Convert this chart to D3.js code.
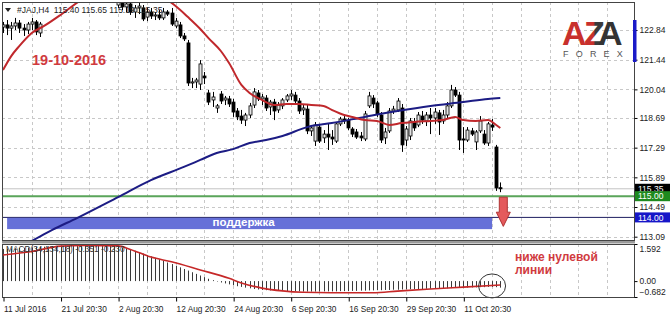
<!DOCTYPE html>
<html lang="ru">
<head>
<meta charset="UTF-8">
<title>H4 chart with MACD</title>
<script src="https://d3js.org/d3.v7.min.js"></script>
<style>
  body { margin: 0; background: #fff; }
  svg text { font-family: "Liberation Sans", Arial, sans-serif; }
</style>
</head>
<body>
<svg id="chart" width="670" height="316"></svg>
<script>
// ---- data ----
const symbolName = "#JAJ,H4";
const xLabels = ["11 Jul 2016", "21 Jul 20:30", "2 Aug 20:30", "12 Aug 20:30", "24 Aug 20:30",
  "6 Sep 20:30", "16 Sep 20:30", "29 Sep 20:30", "11 Oct 20:30"];
const xLabelBars = [0, 14, 28, 42, 56, 70, 84, 98, 112];
const priceTicks = [122.84, 121.44, 120.04, 118.69, 117.29, 115.89, 114.49, 113.09];
const macdTicks = [1.592, 0, -0.682];

// bars 10-27 are above the visible price range, so they are left empty
const N = null;
const open = [122.98,123.08,122.93,123.03,123.17,122.93,122.84,123.12,123.22,122.70,
  N,N,N,N,N,N,N,N,N,N,N,N,N,N,N,N,N,N,
  124.02,124.11,123.93,124.07,123.69,123.88,123.88,123.45,123.69,123.50,123.55,123.41,123.69,
  123.64,123.03,123.08,122.56,122.23,120.34,120.39,120.29,120.67,
  119.87,119.54,119.16,119.82,119.54,119.59,119.44,119.02,118.78,118.59,
  118.83,119.30,119.87,119.59,119.63,119.21,119.44,119.07,119.26,119.54,
  119.73,119.77,119.49,119.07,119.11,118.08,117.60,118.26,117.75,117.93,
  117.79,117.60,118.41,118.64,118.59,118.17,118.03,117.84,117.70,119.26,
  119.63,119.40,118.83,117.75,118.08,119.02,119.07,119.16,117.65,117.84,
  118.50,118.36,118.78,118.55,118.83,118.69,118.93,118.55,118.83,119.26,
  120.01,119.77,117.70,117.65,118.08,117.56,118.08,117.93,117.51,118.36,117.32,115.40];
const high = [123.22,123.31,123.22,123.41,123.31,123.12,123.22,123.41,123.31,123.22,
  N,N,N,N,N,N,N,N,N,N,N,N,N,N,N,N,N,N,
  124.49,124.40,124.26,124.35,124.02,124.16,124.02,123.88,123.88,123.69,123.78,123.88,123.78,
  123.88,123.41,123.22,122.70,122.37,120.58,120.58,121.42,120.86,
  120.01,119.92,119.35,119.96,119.73,119.73,119.59,119.16,119.07,118.93,
  119.40,120.10,120.01,119.82,119.77,119.54,119.59,119.44,119.63,119.82,
  120.01,119.92,119.63,119.35,119.35,118.36,118.50,118.41,118.12,118.41,
  118.12,118.50,118.74,118.78,118.69,118.26,118.17,118.03,119.02,119.92,
  119.77,119.49,118.97,118.22,119.16,119.26,119.63,119.35,118.31,118.69,
  118.69,118.97,119.02,118.97,119.16,119.16,119.07,119.07,119.44,120.25,
  120.15,119.92,118.26,118.26,118.22,118.12,118.78,118.12,118.50,118.64,117.42,115.65];
const low = [122.70,122.60,122.37,122.84,122.70,122.56,122.65,122.84,122.60,122.51,
  N,N,N,N,N,N,N,N,N,N,N,N,N,N,N,N,N,N,
  123.88,123.78,123.69,123.55,123.41,123.59,123.26,123.26,123.36,123.31,123.31,123.31,123.50,
  123.03,122.93,122.46,122.32,120.20,120.10,120.10,120.01,120.29,
  119.30,119.21,118.93,119.35,119.30,119.21,118.74,118.59,118.41,118.31,
  118.69,119.16,119.49,119.30,119.02,118.83,118.59,118.93,119.11,119.44,
  119.54,119.35,118.88,118.83,117.93,117.84,117.37,117.51,117.51,117.18,
  117.42,117.51,118.31,118.41,118.12,117.79,117.70,117.60,117.60,119.16,
  119.16,118.74,117.51,117.46,117.98,118.88,118.97,117.09,117.37,117.65,
  118.08,118.26,118.41,118.31,117.93,118.41,117.89,118.41,118.69,119.16,
  119.68,117.18,117.04,117.56,117.84,117.18,117.98,117.42,117.37,118.08,115.25,115.19];
const close = [123.08,122.93,123.03,123.17,122.93,122.84,123.12,123.22,122.75,123.12,
  N,N,N,N,N,N,N,N,N,N,N,N,N,N,N,N,N,N,
  124.16,123.93,124.07,123.69,123.88,123.97,123.36,123.69,123.50,123.55,123.41,123.69,123.59,
  123.12,123.26,122.56,122.42,120.34,120.39,120.48,121.24,120.58,
  119.44,119.68,119.26,119.49,119.63,119.35,118.97,118.74,118.59,118.83,
  119.26,119.92,119.59,119.68,119.16,119.44,119.02,119.30,119.54,119.73,
  119.82,119.49,119.02,119.16,118.08,118.22,118.36,117.60,117.93,117.79,
  117.70,118.41,118.64,118.55,118.22,117.93,117.79,117.75,118.88,119.73,
  119.35,118.88,117.65,118.03,119.02,119.11,119.49,117.42,118.17,118.55,
  118.22,118.83,118.59,118.83,118.69,118.97,118.50,118.83,119.26,120.01,
  119.77,117.65,117.65,118.12,117.93,118.03,118.55,117.51,118.41,118.26,115.39,115.35];

// red (short) moving average, sampled at bar indices
const fastMaBars = [0, 2, 4, 7, 10, 14, 19, 24, 30, 37, 40, 42, 45, 48, 50, 53, 55, 58, 60, 63, 66, 69,
  72, 75, 78, 80, 83, 85, 88, 91, 94, 97, 100, 104, 107, 110, 112, 115, 118, 120, 121];
const fastMaValues = [120.95, 121.61, 122.09, 122.70, 123.03, 123.55, 124.26, 124.82, 124.96, 124.54,
  124.26, 123.97, 123.45, 122.89, 122.46, 121.85, 121.28, 120.25, 119.87, 119.54, 119.30, 119.35,
  119.35, 119.30, 119.26, 119.07, 118.83, 118.74, 118.59, 118.55, 118.36, 118.45, 118.50, 118.55,
  118.59, 118.74, 118.59, 118.55, 118.59, 118.36, 118.22];

// blue (long) moving average
const slowMaBars = [0, 7, 12, 18, 28, 36, 44, 48, 52, 56, 60, 64, 68, 74, 80, 88, 96, 104, 112, 118, 121];
const slowMaValues = [112.18, 112.89, 113.41, 113.97, 114.96, 115.76, 116.38, 116.71, 117.04, 117.22,
  117.51, 117.65, 117.84, 118.26, 118.45, 118.74, 119.02, 119.26, 119.44, 119.59, 119.63];

// MACD main (histogram), one value per bar
const macdHist = [1.38,1.39,1.40,1.41,1.42,1.43,1.44,1.45,1.46,1.47,
  1.48,1.49,1.50,1.51,1.52,1.53,1.54,1.55,1.56,1.57,
  1.58,1.59,1.59,1.59,1.58,1.57,1.55,1.53,
  1.47,1.44,1.40,1.35,1.30,1.24,1.18,1.12,1.06,1.00,0.94,0.87,0.80,0.73,0.66,0.59,0.52,0.45,
  0.38,0.31,0.24,0.17,0.10,0.04,-0.02,-0.06,-0.10,-0.14,-0.18,-0.22,-0.25,-0.28,-0.31,-0.34,
  -0.36,-0.38,-0.39,-0.40,-0.41,-0.42,
  -0.43,-0.43,-0.44,-0.44,-0.44,-0.45,-0.45,-0.45,-0.45,-0.45,-0.44,-0.44,-0.44,-0.44,-0.43,-0.43,-0.43,
  -0.42,-0.42,-0.41,-0.41,-0.40,-0.40,-0.39,-0.39,-0.38,-0.38,-0.37,-0.37,-0.36,-0.36,-0.35,
  -0.35,-0.34,-0.34,-0.33,-0.33,-0.32,-0.32,-0.31,-0.31,-0.30,-0.29,-0.29,-0.28,-0.28,-0.27,-0.27,
  -0.26,-0.26,-0.25,-0.25,-0.26,-0.28];

// MACD signal line
const signalBars = [0, 7, 14, 20, 28, 31, 36, 41, 48, 55, 58, 63, 68, 73, 80, 90, 96, 104, 112, 121];
const signalValues = [1.12, 1.27, 1.50, 1.53, 1.51, 1.36, 1.03, 0.83, 0.48, 0.12, -0.08, -0.30,
  -0.42, -0.48, -0.50, -0.50, -0.43, -0.34, -0.26, -0.17];

const levelGreen = 115.00;
const levelBlue = 114.00;
const supportLow = 113.47;
const supportFromBar = 1, supportToBar = 119;
const dateNote = "19-10-2016";
const macdNote = ["ниже нулевой", "линии"];
const macdLabel = "MACD(34,134,18) -0.351 -0.230";

// ---- layout ----
const plot = { left: 2, right: 634, top: 2, bottom: 240 };
const sub = { top: 244, bottom: 297 };
const lastBar = close.length - 1;

const svg = d3.select("#chart");

const x = d3.scaleLinear().domain([0, lastBar]).range([3, 500.3]);
const y = d3.scaleLinear().domain([112.934, 124.161]).range([plot.bottom, plot.top]);
const ym = d3.scaleLinear().domain([-0.682, 1.592]).range([sub.bottom, sub.top]);

const defs = svg.append("defs");
defs.append("clipPath").attr("id", "clipMain").append("rect")
  .attr("x", plot.left).attr("y", plot.top)
  .attr("width", plot.right - plot.left).attr("height", plot.bottom - plot.top);
defs.append("clipPath").attr("id", "clipSub").append("rect")
  .attr("x", plot.left).attr("y", sub.top)
  .attr("width", plot.right - plot.left).attr("height", sub.bottom - sub.top);
const zGrad = defs.append("linearGradient").attr("id", "zGrad")
  .attr("x1", "0%").attr("x2", "100%").attr("y1", "0%").attr("y2", "0%");
zGrad.append("stop").attr("offset", "45%").attr("stop-color", "#c8302c");
zGrad.append("stop").attr("offset", "55%").attr("stop-color", "#3a3a3a");

// grid
const gridBars = d3.range(7, 160, 7).filter(b => x(b) < plot.right - 2);
const grid = svg.append("g").attr("stroke", "#c8c8c8").attr("stroke-dasharray", "3,3")
  .attr("shape-rendering", "crispEdges");
grid.selectAll(".hg").data(priceTicks).join("line")
  .attr("x1", plot.left).attr("x2", plot.right)
  .attr("y1", d => Math.round(y(d)) + 0.5).attr("y2", d => Math.round(y(d)) + 0.5);
grid.selectAll(".vg").data(gridBars).join("line")
  .attr("x1", d => Math.round(x(d)) + 0.5).attr("x2", d => Math.round(x(d)) + 0.5)
  .attr("y1", plot.top).attr("y2", plot.bottom);
grid.selectAll(".vg2").data(gridBars).join("line")
  .attr("x1", d => Math.round(x(d)) + 0.5).attr("x2", d => Math.round(x(d)) + 0.5)
  .attr("y1", sub.top).attr("y2", sub.bottom);

const main = svg.append("g").attr("clip-path", "url(#clipMain)");

// horizontal price lines
main.append("line").attr("x1", plot.left).attr("x2", plot.right)
  .attr("y1", y(close[lastBar])).attr("y2", y(close[lastBar]))
  .attr("stroke", "#c4c4c4").attr("stroke-width", 1);
main.append("line").attr("x1", plot.left).attr("x2", plot.right)
  .attr("y1", y(levelGreen)).attr("y2", y(levelGreen))
  .attr("stroke", "#5aa55a").attr("stroke-width", 2);
main.append("line").attr("x1", plot.left).attr("x2", plot.right)
  .attr("y1", y(levelBlue)).attr("y2", y(levelBlue))
  .attr("stroke", "#1c1c60").attr("stroke-width", 1);

// support zone
main.append("rect")
  .attr("x", x(supportFromBar)).attr("y", y(levelBlue) + 0.5)
  .attr("width", x(supportToBar) - x(supportFromBar))
  .attr("height", y(supportLow) - y(levelBlue))
  .attr("fill", "#6670d8");
main.append("text")
  .attr("x", (x(supportFromBar) + x(supportToBar)) / 2 - 6)
  .attr("y", y(supportLow) - 2.5)
  .attr("text-anchor", "middle").attr("fill", "#fff")
  .attr("font-size", 11.5).attr("font-weight", "bold")
  .text("поддержка");

// candles
const bars = d3.range(close.length).filter(i => close[i] !== null);
const bw = 3;
main.append("g").selectAll("line").data(bars).join("line")
  .attr("x1", i => Math.round(x(i)) + 0.5).attr("x2", i => Math.round(x(i)) + 0.5)
  .attr("y1", i => y(high[i])).attr("y2", i => y(low[i]))
  .attr("stroke", "#000").attr("stroke-width", 1);
main.append("g").selectAll("rect").data(bars).join("rect")
  .attr("x", i => Math.round(x(i)) - 1)
  .attr("y", i => y(Math.max(open[i], close[i])))
  .attr("width", bw)
  .attr("height", i => Math.max(1, Math.abs(y(open[i]) - y(close[i]))))
  .attr("fill", i => close[i] >= open[i] ? "#e4e4e4" : "#000")
  .attr("stroke", "#000").attr("stroke-width", 0.8);

// moving averages
const maLine = d3.line().x(d => x(d[0])).y(d => y(d[1])).curve(d3.curveMonotoneX);
main.append("path").datum(d3.zip(slowMaBars, slowMaValues))
  .attr("fill", "none").attr("stroke", "#1c1c84").attr("stroke-width", 2).attr("d", maLine);
main.append("path").datum(d3.zip(fastMaBars, fastMaValues))
  .attr("fill", "none").attr("stroke", "#c0282c").attr("stroke-width", 2).attr("d", maLine);

// red arrow down from the green level
const ax = x(lastBar) + 3, aTop = y(levelGreen) + 1, aBase = y(levelGreen) + 16, aTip = y(levelBlue) + 9;
main.append("path")
  .attr("d", `M${ax - 4},${aTop} L${ax + 4},${aTop} L${ax + 4},${aBase} L${ax + 7},${aBase}
    L${ax},${aTip} L${ax - 7},${aBase} L${ax - 4},${aBase} Z`)
  .attr("fill", "#e45a5c").attr("stroke", "#b03434").attr("stroke-width", 1);

// date note
svg.append("text").attr("x", 32).attr("y", 65)
  .attr("font-size", 14.5).attr("font-weight", "bold").attr("fill", "#d03a3e")
  .text(dateNote);

// symbol header
svg.append("path").attr("d", "M5,8 L11,8 L8,12 Z").attr("fill", "#222");
const fmt2 = d3.format(".2f");
svg.append("text").attr("x", 17).attr("y", 13).attr("font-size", 8.5).attr("fill", "#222")
  .attr("xml:space", "preserve")
  .text(`${symbolName}  ${fmt2(open[lastBar])} ${fmt2(high[lastBar])} ${fmt2(low[lastBar])} ${fmt2(close[lastBar])}`);

// logo
const logo = svg.append("g").attr("font-weight", "bold").attr("font-size", 34);
logo.append("text").attr("x", 562).attr("y", 45).attr("fill", "#c8302c").text("A");
logo.append("text").attr("x", 584).attr("y", 45).attr("fill", "url(#zGrad)").text("Z");
logo.append("text").attr("x", 598).attr("y", 45).attr("fill", "#333").text("A");
svg.append("text").attr("x", 563).attr("y", 57).attr("font-size", 9).attr("letter-spacing", 7.2)
  .attr("fill", "#555").text("FOREX");

// ---- MACD window ----
const macdG = svg.append("g").attr("clip-path", "url(#clipSub)");
macdG.append("g").selectAll("line").data(d3.range(macdHist.length)).join("line")
  .attr("x1", i => Math.round(x(i)) + 0.5).attr("x2", i => Math.round(x(i)) + 0.5)
  .attr("y1", ym(0)).attr("y2", i => ym(macdHist[i]))
  .attr("stroke", "#3a3a3a").attr("stroke-width", 1);
macdG.append("path").datum(d3.zip(signalBars, signalValues))
  .attr("fill", "none").attr("stroke", "#c62828").attr("stroke-width", 1.6)
  .attr("d", d3.line().x(d => x(d[0])).y(d => ym(d[1])).curve(d3.curveMonotoneX));
svg.append("text").attr("x", 6).attr("y", 252).attr("font-size", 8.3).attr("fill", "#333")
  .text(macdLabel);

// circle around the last bars
svg.append("ellipse").attr("cx", x(lastBar - 2)).attr("cy", ym(macdHist[lastBar - 2]) - 1)
  .attr("rx", 13.5).attr("ry", 12).attr("fill", "none").attr("stroke", "#333").attr("stroke-width", 1);

svg.selectAll(".mnote").data(macdNote).join("text")
  .attr("x", 515).attr("y", (d, i) => 261 + i * 13)
  .attr("font-size", 12).attr("font-weight", "bold").attr("fill", "#d03a3e")
  .text(d => d);

// ---- frames ----
svg.append("rect").attr("x", plot.left + 0.5).attr("y", plot.top + 0.5)
  .attr("width", plot.right - plot.left).attr("height", plot.bottom - plot.top)
  .attr("fill", "none").attr("stroke", "#444");
svg.append("rect").attr("x", plot.left).attr("y", plot.bottom + 1)
  .attr("width", plot.right - plot.left + 1).attr("height", 2.5).attr("fill", "#9a9a9a");
svg.append("rect").attr("x", plot.left + 0.5).attr("y", sub.top + 0.5)
  .attr("width", plot.right - plot.left).attr("height", sub.bottom - sub.top)
  .attr("fill", "none").attr("stroke", "#444");

// right price axis
const yAxis = svg.append("g").attr("transform", `translate(${plot.right + 0.5},0)`)
  .call(d3.axisRight(y).tickValues(priceTicks).tickSize(3).tickFormat(fmt2));
yAxis.select(".domain").remove();
yAxis.selectAll("text").attr("font-size", 8.5).attr("fill", "#222").attr("x", 5);
svg.append("rect").attr("x", plot.right - 1).attr("y", 20).attr("width", 3.5).attr("height", 42)
  .attr("fill", "#1a1ac8");

// price tags
const tags = [
  { v: close[lastBar], c: "#000" },
  { v: levelGreen, c: "#1e8a1e" },
  { v: levelBlue, c: "#1616c8" }
];
tags.forEach(t => {
  const g = svg.append("g");
  g.append("rect").attr("x", plot.right + 1).attr("y", y(t.v) - 5).attr("width", 36).attr("height", 10)
    .attr("fill", t.c);
  g.append("text").attr("x", plot.right + 4).attr("y", y(t.v) + 3.2).attr("font-size", 8.5)
    .attr("fill", "#fff").text(fmt2(t.v));
});

// MACD axis
const fmtM = d => d === 0 ? "0.00" : d3.format(".3f")(d);
const mAxis = svg.append("g").attr("transform", `translate(${plot.right + 0.5},0)`)
  .call(d3.axisRight(ym).tickValues(macdTicks).tickSize(3).tickFormat(fmtM));
mAxis.select(".domain").remove();
mAxis.selectAll("text").attr("font-size", 8.5).attr("fill", "#222").attr("x", 5)
  .attr("dy", d => d === macdTicks[0] ? "0.9em" : d === macdTicks[2] ? "-0.3em" : "0.32em");

// bottom time axis
const xAxis = svg.append("g").attr("transform", `translate(0.5,${sub.bottom + 0.5})`)
  .call(d3.axisBottom(x).tickValues(xLabelBars).tickSize(4).tickFormat((d, i) => xLabels[i]));
xAxis.select(".domain").remove();
xAxis.selectAll("text").attr("font-size", 8.3).attr("fill", "#222")
  .attr("text-anchor", "start").attr("x", 0).attr("dy", "0.9em");
</script>
</body>
</html>
